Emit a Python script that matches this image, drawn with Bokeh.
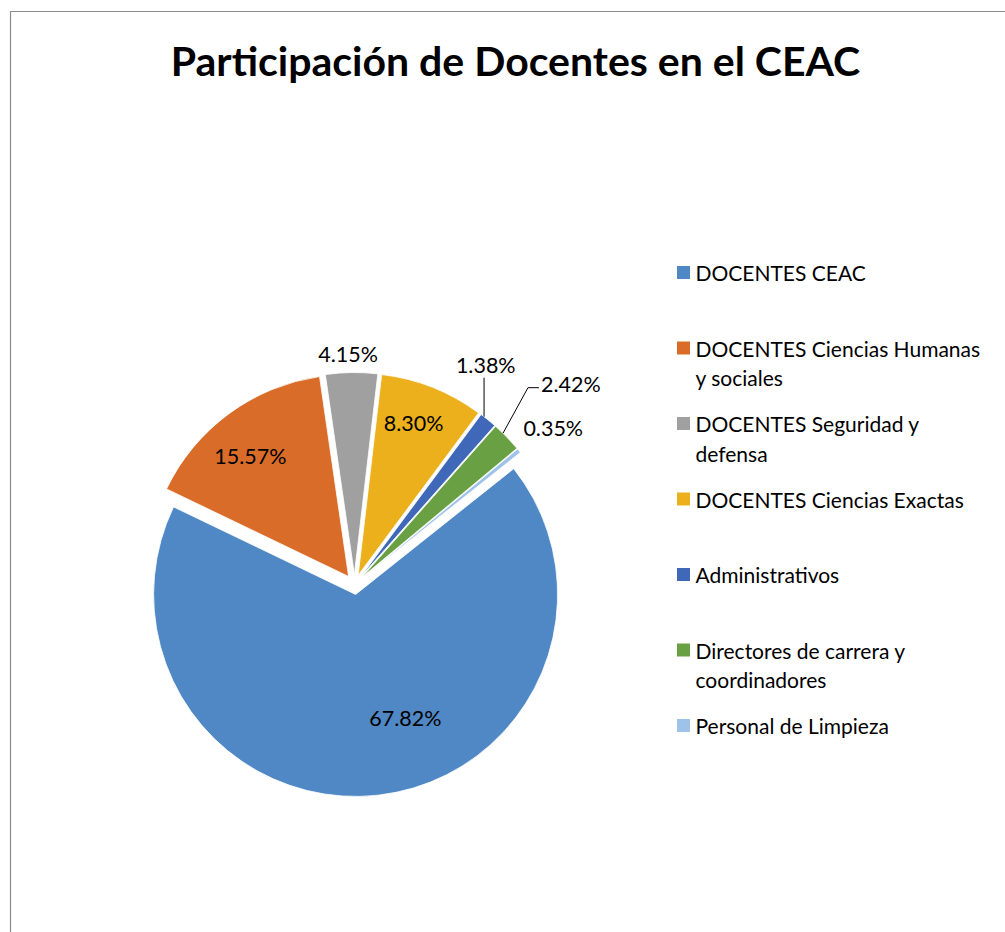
import numpy as np
from bokeh.plotting import figure
from bokeh.models import Range1d
from bokeh.core.properties import value
from bokeh.embed import file_html
from bokeh.resources import INLINE

# ---------------- data ----------------
chart_title = "Participación de Docentes en el CEAC"
categories = [
    "DOCENTES CEAC",
    "DOCENTES Ciencias Humanas y sociales",
    "DOCENTES Seguridad y defensa",
    "DOCENTES Ciencias Exactas",
    "Administrativos",
    "Directores de carrera y coordinadores",
    "Personal de Limpieza",
]
legend_lines = [
    ["DOCENTES CEAC"],
    ["DOCENTES Ciencias Humanas", "y sociales"],
    ["DOCENTES Seguridad y", "defensa"],
    ["DOCENTES Ciencias Exactas"],
    ["Administrativos"],
    ["Directores de carrera y", "coordinadores"],
    ["Personal de Limpieza"],
]
percentages = [67.82, 15.57, 4.15, 8.30, 1.38, 2.42, 0.35]
labels = ["67.82%", "15.57%", "4.15%", "8.30%", "1.38%", "2.42%", "0.35%"]

# ---------------- style ----------------
colors = ["#4F88C5", "#DA6C2A", "#A0A0A0", "#EBB01C", "#4068B8", "#69A043", "#9FC2E8"]
FONT = "Lato"
W, H = 1005, 932


def sy(y_screen):
    # screen y (page pixels) -> data y
    return H - y_screen


p = figure(width=W, height=H, output_backend="svg", toolbar_location=None,
           x_range=Range1d(0, W), y_range=Range1d(0, H),
           min_border=0, outline_line_color=None)
p.axis.visible = False
p.grid.visible = False
p.background_fill_color = "white"
p.border_fill_color = "white"

# chart area border (top and left visible)
p.line([10, 10, W], [sy(H), sy(11), sy(11)], line_color="#8C8C8C", line_width=1.2)

# title
p.text(x=[515], y=[sy(60)], text=[chart_title], text_font=value(FONT),
       text_font_style="bold", text_font_size="41px", text_align="center",
       text_baseline="middle", text_color="black")

# pie geometry
cx, cy = 354, sy(584)
R = 202
explode = 10
first_angle = 51.5  # degrees clockwise from 12 o'clock

vals = np.array(percentages)
frac = vals / vals.sum()
cum = np.concatenate([[0], np.cumsum(frac)]) * 360 + first_angle
a0, a1 = cum[:-1], cum[1:]
mid = (a0 + a1) / 2
mr = np.radians(mid)
xs = cx + explode * np.sin(mr)
ys = cy + explode * np.cos(mr)

p.wedge(x=xs, y=ys, radius=R,
        start_angle=np.radians(90 - a0), end_angle=np.radians(90 - a1),
        direction="clock", fill_color=colors, line_color="white", line_width=0.8)

# data labels: (angle shift from slice middle, distance from pie centre)
label_shift = [-14.4, -2.8, -0.8, -1.5, -8.2, 1.4, 0.9]
label_dist = [143, 165, 231, 172, 256, 296, 253]
la = np.radians(mid + np.array(label_shift))
lx = cx + np.array(label_dist) * np.sin(la)
ly = cy + np.array(label_dist) * np.cos(la)
align = ["center", "center", "center", "center", "center", "left", "center"]
lx_adj = lx.copy()
lx_adj[5] = lx[5] - 31
p.text(x=lx_adj, y=ly, text=labels, text_font=value(FONT), text_font_size="21.5px",
       text_align=align, text_baseline="middle", text_color="black")

# leader lines for the two thin slices
for i, ang in [(4, 37.6), (5, 44.4)]:
    ex = xs[i] + R * np.sin(np.radians(ang))
    ey = ys[i] + R * np.cos(np.radians(ang))
    if i == 4:
        p.line([ex, ex], [ey, ly[i] - 13], line_color="black", line_width=1)
    else:
        p.line([ex, lx_adj[i] - 13, lx_adj[i] - 2], [ey, ly[i] - 4, ly[i] - 4],
               line_color="black", line_width=1)

# legend
leg_x = 683
leg_y0 = 272
leg_step = 75.5
line_gap = 29.5
for i, lines in enumerate(legend_lines):
    yy = leg_y0 + i * leg_step
    p.rect(x=[leg_x], y=[sy(yy)], width=13, height=13, fill_color=colors[i], line_color=None)
    for k, t in enumerate(lines):
        p.text(x=[695], y=[sy(yy + k * line_gap)], text=[t], text_font=value(FONT),
               text_font_size="21px", text_align="left", text_baseline="middle",
               text_color="black")

open("out.html", "w").write(file_html(p, INLINE))
